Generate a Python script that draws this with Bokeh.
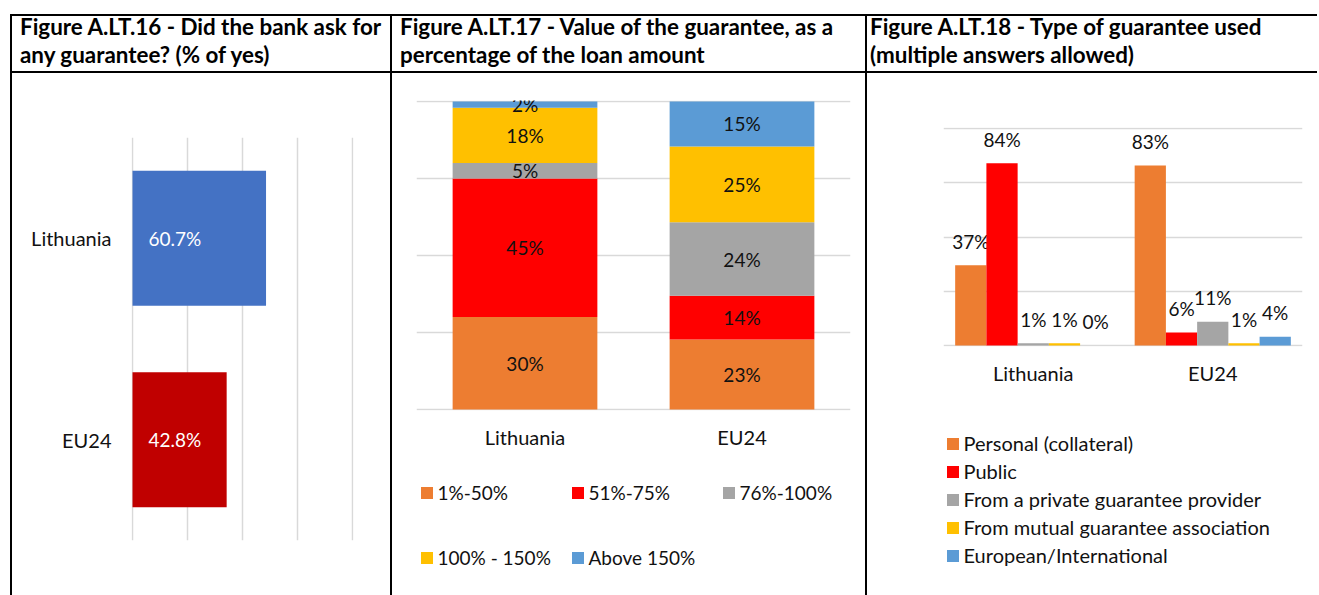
from bokeh.plotting import figure
from bokeh.layouts import row, column
from bokeh.models import ColumnDataSource, FactorRange, Range1d, Legend, LegendItem, Div
from bokeh.transform import dodge
from bokeh.core.properties import value
from bokeh.embed import file_html
from bokeh.resources import INLINE

FONT = "Lato"
TXT = "#111111"
GRID = "#D9D9D9"
FS_WORD = "20px"
FS_NUM = "19px"

# ---------------- data ----------------
title_a = ["Figure A.LT.16 - Did the bank ask for", "any guarantee? (% of yes)"]
title_b = ["Figure A.LT.17 - Value of the guarantee, as a", "percentage of the loan amount"]
title_c = ["Figure A.LT.18 - Type of guarantee used", "(multiple answers allowed)"]

countries = ["Lithuania", "EU24"]

asked_yes = [60.7, 42.8]
asked_colors = ["#4472C4", "#C00000"]

value_bands = ["1%-50%", "51%-75%", "76%-100%", "100% - 150%", "Above 150%"]
value_lithuania = [30, 45, 5, 18, 2]
value_eu24 = [22.7, 14.2, 23.9, 24.6, 14.6]

guarantee_types = ["Personal (collateral)", "Public", "From a private guarantee provider",
                   "From mutual guarantee association", "European/International"]
type_lithuania = [37, 84, 1, 1, 0]
type_eu24 = [83, 6, 11, 1, 4]

band_colors = ["#ED7D31", "#FF0000", "#A5A5A5", "#FFC000", "#5B9BD5"]

grid_ticks = [0, 25, 50, 75, 100]

# ---------------- layout constants ----------------
HDR_H = 55
W1, W2, W3 = 378, 473, 450
BORDER = "2px solid black"
BL = {"border-left": BORDER, "box-sizing": "content-box"}


def header(lines, w, pad):
    html = (f'<div style="padding-left:{pad}px; margin-top:-3px; line-height:28.3px; '
            f'white-space:nowrap; font-family:Lato; font-weight:bold; font-size:22.4px; color:black;">'
            + "<br>".join(lines) + "</div>")
    return Div(text=html, width=w, height=HDR_H, margin=0,
               styles={"border-left": BORDER, "border-top": BORDER, "border-bottom": BORDER,
                       "box-sizing": "content-box", "overflow": "visible"})


def style_cat_axis(ax, standoff):
    ax.axis_line_color = None
    ax.major_tick_line_color = None
    ax.minor_tick_line_color = None
    ax.major_tick_out = 0
    ax.major_tick_in = 0
    ax.major_label_standoff = standoff
    ax.major_label_text_font = FONT
    ax.major_label_text_font_size = FS_WORD
    ax.major_label_text_color = TXT


def style_grid(p, dim):
    g = p.xgrid if dim == "x" else p.ygrid
    other = p.ygrid if dim == "x" else p.xgrid
    g.grid_line_color = GRID
    g.grid_line_width = 1.5
    other.visible = False


def legend_fig(w, h, bl, br):
    f = figure(width=w, height=h, x_range=FactorRange(factors=countries), y_range=Range1d(0, 1),
               x_axis_location=None, y_axis_location=None, toolbar_location=None,
               output_backend="svg", min_border_left=bl, min_border_right=br,
               min_border_top=0, min_border_bottom=0, outline_line_color=None, styles=BL)
    f.grid.visible = False
    return f


# ---------------- panel A ----------------
p1 = figure(width=W1, height=522,
            y_range=FactorRange(factors=list(reversed(countries)), range_padding=0),
            x_range=Range1d(-0.46, 100.46), toolbar_location=None, output_backend="svg",
            min_border_left=119, min_border_right=39, min_border_top=64, min_border_bottom=55,
            outline_line_color=None, styles=BL)
p1.hbar(y=countries, left=[0] * len(countries), right=asked_yes, height=0.67,
        fill_color=asked_colors, line_color=None)
p1.text(x=[0] * len(countries), y=countries, text=[f"{v:.1f}%" for v in asked_yes],
        x_offset=16, text_baseline="middle", text_align="left", text_color="white",
        text_font=value(FONT), text_font_size=FS_NUM)
p1.xaxis.ticker = grid_ticks
p1.xaxis.visible = False
style_grid(p1, "x")
style_cat_axis(p1.yaxis[0], 20)

# ---------------- panel B ----------------
P2_H = 387
p2 = figure(width=W2, height=P2_H, x_range=FactorRange(factors=countries, range_padding=0),
            y_range=Range1d(-0.33, 100.33), toolbar_location=None, output_backend="svg",
            min_border_left=24, min_border_right=17, min_border_top=27, min_border_bottom=50,
            outline_line_color=None, styles=BL)
keys = [f"b{i}" for i in range(len(value_bands))]
src2 = ColumnDataSource(dict(country=countries,
                             **{k: [value_lithuania[i], value_eu24[i]] for i, k in enumerate(keys)}))
p2.vbar_stack(keys, x="country", width=0.667, fill_color=band_colors, line_color=None, source=src2)
lx, ly, lt = [], [], []
for c, vals in zip(countries, [value_lithuania, value_eu24]):
    cum = 0
    for v in vals:
        lx.append(c)
        ly.append(cum + v / 2)
        lt.append(f"{round(v)}%")
        cum += v
p2.text(x=lx, y=ly, text=lt, text_align="center", text_baseline="middle", text_color=TXT,
        text_font=value(FONT), text_font_size=FS_NUM)
p2.yaxis.ticker = grid_ticks
p2.yaxis.visible = False
style_grid(p2, "y")
style_cat_axis(p2.xaxis[0], 14)

# legend for panel B (legend-only copies of the series, not drawn)
lg2 = legend_fig(W2, 522 - P2_H, 24, 17)
lr2 = lg2.vbar_stack(keys, x="country", width=0.667, fill_color=band_colors, line_color=None,
                     source=src2)
for r in lr2:
    r.visible = False
leg_kw = dict(orientation="horizontal", padding=0, margin=0, spacing=0, border_line_color=None,
              background_fill_alpha=0, inactive_fill_alpha=0, glyph_width=15, glyph_height=15,
              label_height=15, label_standoff=4, label_width=132, label_text_font=FONT,
              label_text_font_size=FS_NUM, label_text_color=TXT)
lg2.add_layout(Legend(items=[LegendItem(label=value_bands[i], renderers=[lr2[i]]) for i in range(3)],
                      location=(2.5, 90.6), **leg_kw))
lg2.add_layout(Legend(items=[LegendItem(label=value_bands[i], renderers=[lr2[i]]) for i in range(3, 5)],
                      location=(2.5, 25.6), **leg_kw))

# ---------------- panel C ----------------
P3_H = 327
p3 = figure(width=W3, height=P3_H, x_range=FactorRange(factors=countries, range_padding=0),
            y_range=Range1d(-0.46, 100.46), toolbar_location=None, output_backend="svg",
            min_border_left=76, min_border_right=17, min_border_top=54, min_border_bottom=54,
            outline_line_color=None, styles=BL)
bw = 0.174
data3 = dict(country=countries)
for i in range(len(guarantee_types)):
    data3[f"t{i}"] = [type_lithuania[i], type_eu24[i]]
    data3[f"l{i}"] = [f"{type_lithuania[i]}%", f"{type_eu24[i]}%"]
src3 = ColumnDataSource(data3)
for i in range(len(guarantee_types)):
    xd = dodge("country", (i - 2) * bw, range=p3.x_range)
    p3.vbar(x=xd, top=f"t{i}", width=bw, source=src3, fill_color=band_colors[i], line_color=None)
    p3.text(x=xd, y=f"t{i}", text=f"l{i}", source=src3, y_offset=-24, text_align="center",
            text_baseline="middle", text_color=TXT, text_font=value(FONT), text_font_size=FS_NUM)
p3.yaxis.ticker = grid_ticks
p3.yaxis.visible = False
style_grid(p3, "y")
style_cat_axis(p3.xaxis[0], 14)

# legend for panel C (legend-only copies of the series, not drawn)
lg3 = legend_fig(W3, 522 - P3_H, 76, 17)
lr3 = []
for i in range(len(guarantee_types)):
    r = lg3.vbar(x=dodge("country", (i - 2) * bw, range=lg3.x_range), top=f"t{i}", width=bw,
                 source=src3, fill_color=band_colors[i], line_color=None)
    r.visible = False
    lr3.append(r)
lg3.add_layout(Legend(items=[LegendItem(label=guarantee_types[i], renderers=[lr3[i]]) for i in range(5)],
                      orientation="vertical", padding=0, margin=0, spacing=4, border_line_color=None,
                      background_fill_alpha=0, inactive_fill_alpha=0, glyph_width=15, glyph_height=15,
                      label_height=15, label_standoff=4, label_text_font=FONT,
                      label_text_font_size=FS_WORD, label_text_color=TXT, location=(1.5, 28)))

# ---------------- assemble ----------------
h1 = header(title_a, W1, 8)
h2 = header(title_b, W2, 8)
h3 = header(title_c, W3, 3)

layout = row(column(h1, p1, spacing=0), column(h2, p2, lg2, spacing=0),
             column(h3, p3, lg3, spacing=0), spacing=0, margin=(14, 0, 0, 10))

open("out.html", "w").write(file_html(layout, INLINE))
